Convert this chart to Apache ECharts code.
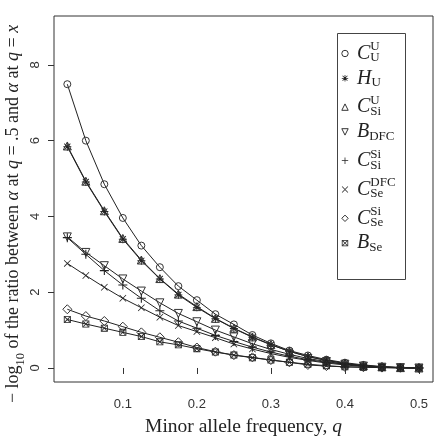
<!DOCTYPE html>
<html>
<head>
<meta charset="utf-8">
<script src="https://cdn.jsdelivr.net/npm/echarts@6/dist/echarts.min.js"></script>
<style>html,body{margin:0;padding:0;background:#fff}#c{width:440px;height:436px}</style>
</head>
<body>
<div id="c"></div>
<script>
// ---- data ----
const q = [0.025,0.05,0.075,0.1,0.125,0.15,0.175,0.2,0.225,0.25,0.275,0.3,0.325,0.35,0.375,0.4,0.425,0.45,0.475,0.5];
const C_U_U   = [7.49,6.00,4.85,3.96,3.23,2.66,2.16,1.79,1.42,1.15,0.87,0.65,0.46,0.33,0.22,0.14,0.08,0.04,0.01,0];
const H_U     = [5.84,4.91,4.13,3.40,2.83,2.35,1.93,1.60,1.30,1.04,0.81,0.61,0.44,0.30,0.20,0.12,0.06,0.03,0.01,0];
const C_Si_U  = [5.86,4.93,4.15,3.42,2.85,2.36,1.95,1.62,1.31,1.05,0.82,0.62,0.44,0.30,0.20,0.12,0.06,0.03,0.01,0];
const B_DFC   = [3.46,3.05,2.70,2.35,2.03,1.72,1.44,1.22,1.00,0.82,0.64,0.49,0.36,0.25,0.17,0.10,0.05,0.02,0.01,0];
const C_Si_Si = [3.44,3.00,2.57,2.19,1.84,1.51,1.24,1.05,0.86,0.70,0.55,0.42,0.31,0.22,0.15,0.10,0.05,0.02,0.01,0];
const C_Se_DFC= [2.76,2.44,2.13,1.84,1.59,1.34,1.12,0.96,0.80,0.63,0.50,0.38,0.28,0.20,0.13,0.08,0.04,0.02,0.005,0];
const C_Se_Si = [1.55,1.37,1.24,1.09,0.94,0.81,0.68,0.54,0.43,0.34,0.28,0.21,0.15,0.08,0.05,0.03,0.02,0.01,0.005,0];
const B_Se    = [1.28,1.16,1.05,0.94,0.83,0.69,0.61,0.51,0.42,0.34,0.27,0.21,0.15,0.10,0.06,0.03,0.02,0.01,0,0];
const xTicks = [0.1,0.2,0.3,0.4,0.5];
const yTicks = [0,2,4,6,8];

// ---- symbols ----
const PLUS = 'path://M4.4,0H5.6V10H4.4Z M0,4.4H10V5.6H0Z';
const CROSS = 'path://M0,0.8L0.8,0L10,9.2L9.2,10Z M9.2,0L10,0.8L0.8,10L0,9.2Z';
const STAR = 'path://M4.4,0H5.6V10H4.4Z M0,4.4H10V5.6H0Z M0.8,1.6L1.6,0.8L9.2,8.4L8.4,9.2Z M8.4,0.8L9.2,1.6L1.6,9.2L0.8,8.4Z';
const BOXX = 'path://M0,0H10V10H0Z M1.2,1.2V8.8H8.8V1.2Z M1.2,2L2,1.2L8.8,8L8,8.8Z M8,1.2L8.8,2L2,8.8L1.2,8Z';

const LINE = '#222';
const specs = [
  {name:'CUU', data:C_U_U, symbol:'circle', size:7, label:'{i|C}{sup|U}{sub|U}'},
  {name:'HU', data:H_U, symbol:STAR, size:8, filled:true, label:'{i|H}{sub|U}'},
  {name:'CSiU', data:C_Si_U, symbol:'triangle', size:8, label:'{i|C}{sup|U}{sub|Si}'},
  {name:'BDFC', data:B_DFC, symbol:'triangle', rotate:180, size:8, label:'{i|B}{sub|DFC}'},
  {name:'CSiSi', data:C_Si_Si, symbol:PLUS, size:9, filled:true, label:'{i|C}{sup|Si}{sub|Si}'},
  {name:'CSeDFC', data:C_Se_DFC, symbol:CROSS, size:7, filled:true, label:'{i|C}{sup|DFC}{sub|Se}'},
  {name:'CSeSi', data:C_Se_Si, symbol:'diamond', size:9, label:'{i|C}{sup|Si}{sub|Se}'},
  {name:'BSe', data:B_Se, symbol:BOXX, size:7, filled:true, label:'{i|B}{sub|Se}'}
];
const labelMap = {};
specs.forEach(s => labelMap[s.name] = s.label);

const series = specs.map(s => ({
  name: s.name,
  type: 'line',
  data: q.map((x, i) => [x, s.data[i]]),
  symbol: s.symbol,
  symbolSize: s.size,
  symbolRotate: s.rotate || 0,
  showAllSymbol: true,
  lineStyle: {color: LINE, width: 1},
  itemStyle: s.filled ? {color: '#222', borderWidth: 0} : {color: 'rgba(0,0,0,0)', borderColor: '#333', borderWidth: 1},
  emphasis: {disabled: true},
  animation: false
}));

const legendData = specs.map(s => ({
  name: s.name,
  itemStyle: s.filled ? {color: '#222', borderWidth: 0} : {color: 'rgba(0,0,0,0)', borderColor: '#333', borderWidth: 1}
}));

const serif = "'Liberation Serif', 'DejaVu Serif', serif";
const sans = "'Liberation Sans', Arial, sans-serif";
const chart = echarts.init(document.getElementById('c'), null, {renderer: 'canvas'});
chart.setOption({
  animation: false,
  backgroundColor: '#fff',
  grid: {left: 54, top: 16, right: 7, bottom: 54, containLabel: false, outerBoundsMode: 'none',
         show: true, borderColor: '#333', borderWidth: 1, backgroundColor: 'transparent'},
  xAxis: {
    type: 'value', min: 0.007, max: 0.519,
    axisLine: {show: false},
    splitLine: {show: false},
    axisTick: {show: true, inside: false, length: 6, lineStyle: {color: '#333'}, customValues: xTicks},
    axisLabel: {customValues: xTicks, formatter: v => v.toFixed(1), color: '#333', fontSize: 13, fontFamily: sans, margin: 16},
    name: 'Minor allele frequency, {i|q}',
    nameLocation: 'middle', nameGap: 35, nameMoveOverlap: false,
    nameTextStyle: {fontFamily: serif, fontSize: 19.5, color: '#222', rich: {i: {fontStyle: 'italic', fontFamily: serif, fontSize: 19.5, color: '#222'}}}
  },
  yAxis: {
    type: 'value', min: -0.37, max: 9.29,
    axisLine: {show: false},
    splitLine: {show: false},
    axisTick: {show: true, inside: false, length: 6, lineStyle: {color: '#333'}, customValues: yTicks},
    axisLabel: {customValues: yTicks, rotate: 90, color: '#333', fontSize: 13, fontFamily: sans, margin: 12},
    name: '− log{s|10} of the ratio between {i|α} at {i|q} = .5 and {i|α} at {i|q} = {i|x}',
    nameLocation: 'middle', nameGap: 32, nameRotate: 90, nameMoveOverlap: false,
    nameTextStyle: {fontFamily: serif, fontSize: 18, color: '#222', padding: [0, 30, 0, 0],
      rich: {
        i: {fontStyle: 'italic', fontFamily: serif, fontSize: 18, color: '#222'},
        s: {fontFamily: serif, fontSize: 12.5, color: '#222', verticalAlign: 'bottom', lineHeight: 13, padding: [0,0,-5,0]}
      }}
  },
  legend: {
    data: legendData,
    orient: 'vertical',
    left: 341, top: 39.5,
    itemWidth: 8, itemHeight: 8,
    itemGap: 0.8,
    padding: 0,
    lineStyle: {opacity: 0, width: 0},
    selectedMode: false,
    formatter: n => labelMap[n],
    textStyle: {
      fontFamily: serif, fontSize: 20, color: '#222', padding: [0,0,0,3],
      rich: {
        i: {fontFamily: serif, fontStyle: 'italic', fontSize: 20, lineHeight: 28, color: '#222'},
        sup: {fontFamily: serif, fontSize: 13, lineHeight: 13, verticalAlign: 'top', width: 0.01, color: '#222', padding: [1,0,0,0]},
        sub: {fontFamily: serif, fontSize: 13, lineHeight: 13, verticalAlign: 'bottom', color: '#222', padding: [0,0,3,0]}
      }
    }
  },
  graphic: [{
    type: 'rect', left: 335, top: 31, shape: {width: 68, height: 246},
    style: {fill: 'none', stroke: '#444', lineWidth: 1}, z: 100
  }],
  series: series
});
</script>
</body>
</html>
